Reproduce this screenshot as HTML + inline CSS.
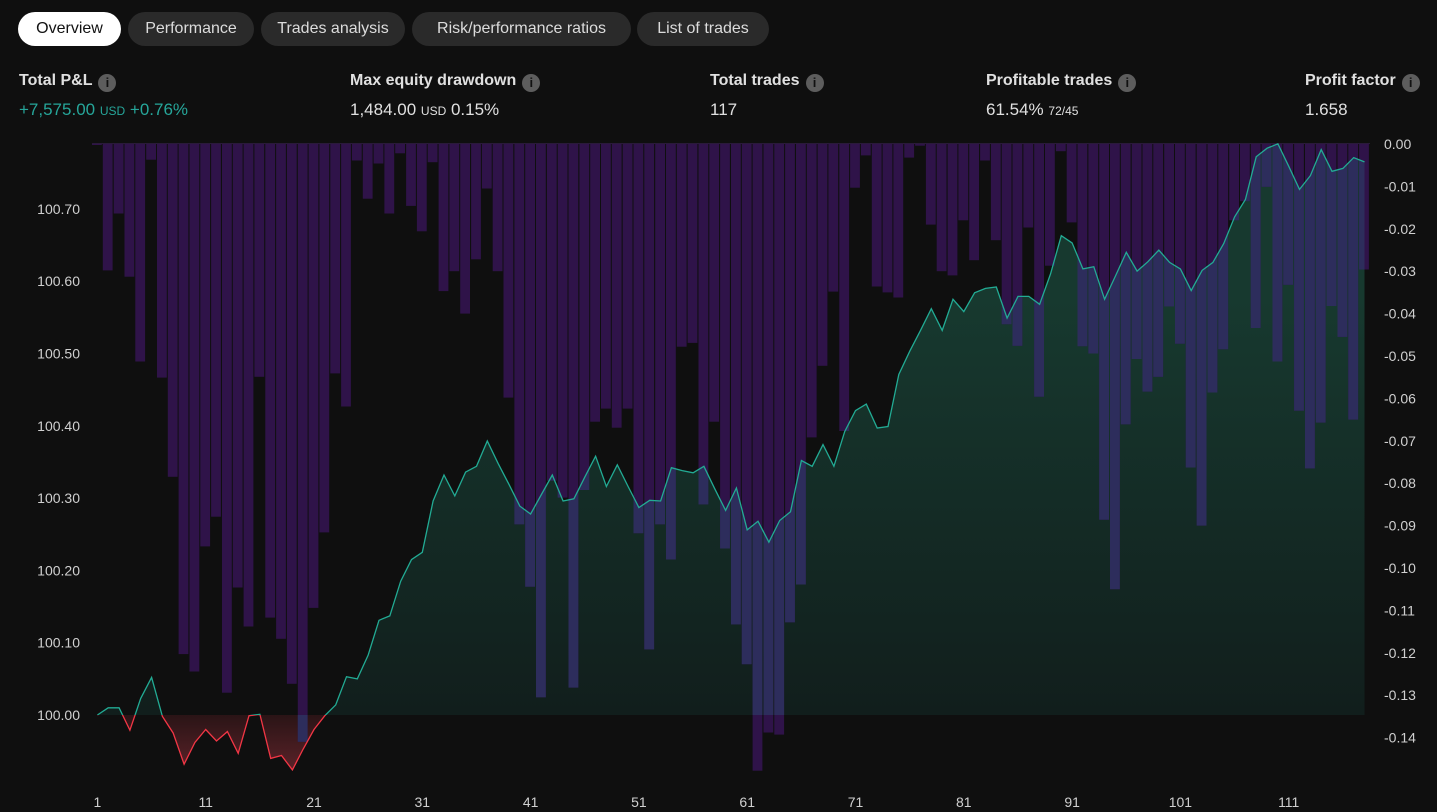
<!DOCTYPE html>
<html><head><meta charset="utf-8">
<style>
body{margin:0;width:1437px;height:812px;background:#0f0f0f;overflow:hidden;font-family:"Liberation Sans",sans-serif;color:#dbdbdb;position:relative}
.tab{position:absolute;top:12px;height:34px;line-height:34px;border-radius:17px;background:#2a2a2a;color:#dcdcdc;font-size:16px;text-align:center}
.tab.on{background:#fff;color:#111}
.lbl{position:absolute;top:72px;font-size:16px;font-weight:bold;color:#e0e0e0;white-space:nowrap}
.info{display:inline-block;width:18px;height:18px;border-radius:9px;background:#5d5d5d;color:#111;font-size:13px;line-height:18px;text-align:center;margin-left:6px;vertical-align:-2px;font-weight:bold}
.val{position:absolute;top:100px;font-size:17px;color:#e0e0e0;white-space:nowrap}
.sm{font-size:12px}
svg{position:absolute;left:0;top:0}
</style></head><body>
<div class="tab on" style="left:18px;width:103px">Overview</div>
<div class="tab" style="left:128px;width:126px">Performance</div>
<div class="tab" style="left:261px;width:144px">Trades analysis</div>
<div class="tab" style="left:412px;width:219px">Risk/performance ratios</div>
<div class="tab" style="left:637px;width:132px">List of trades</div>

<div class="lbl" style="left:19px">Total P&amp;L<span class="info">i</span></div>
<div class="val" style="left:19px;color:#26a69a">+7,575.00 <span class="sm">USD</span> +0.76%</div>
<div class="lbl" style="left:350px">Max equity drawdown<span class="info">i</span></div>
<div class="val" style="left:350px">1,484.00 <span class="sm">USD</span> 0.15%</div>
<div class="lbl" style="left:710px">Total trades<span class="info">i</span></div>
<div class="val" style="left:710px">117</div>
<div class="lbl" style="left:986px">Profitable trades<span class="info">i</span></div>
<div class="val" style="left:986px">61.54% <span class="sm">72/45</span></div>
<div class="lbl" style="left:1305px">Profit factor<span class="info">i</span></div>
<div class="val" style="left:1305px">1.658</div>

<svg id="chart" width="1437" height="812"></svg>
<script>
const equity=[100.000,100.010,100.010,99.979,100.023,100.052,99.998,99.975,99.932,99.962,99.980,99.964,99.977,99.947,99.999,100.001,99.940,99.944,99.924,99.953,99.980,99.999,100.014,100.053,100.050,100.083,100.131,100.137,100.185,100.215,100.225,100.296,100.332,100.303,100.336,100.344,100.379,100.348,100.319,100.289,100.278,100.305,100.332,100.296,100.299,100.329,100.358,100.316,100.346,100.316,100.287,100.297,100.296,100.342,100.338,100.335,100.344,100.313,100.283,100.314,100.256,100.268,100.239,100.269,100.281,100.352,100.344,100.374,100.344,100.392,100.421,100.430,100.397,100.399,100.471,100.503,100.532,100.562,100.532,100.575,100.558,100.584,100.590,100.592,100.549,100.579,100.579,100.568,100.610,100.663,100.653,100.617,100.620,100.575,100.607,100.640,100.614,100.627,100.643,100.626,100.617,100.587,100.615,100.626,100.652,100.689,100.713,100.772,100.784,100.790,100.759,100.727,100.746,100.782,100.752,100.756,100.771,100.765];
const drawdown=[0,-0.0298,-0.0164,-0.0313,-0.0513,-0.0037,-0.0551,-0.0785,-0.1203,-0.1244,-0.0949,-0.0879,-0.1294,-0.1046,-0.1138,-0.0549,-0.1117,-0.1167,-0.1273,-0.1410,-0.1094,-0.0916,-0.0541,-0.0619,-0.0039,-0.0129,-0.0046,-0.0164,-0.0022,-0.0146,-0.0206,-0.0043,-0.0347,-0.0300,-0.0400,-0.0272,-0.0105,-0.0300,-0.0598,-0.0897,-0.1044,-0.1305,-0.0794,-0.0834,-0.1282,-0.0816,-0.0655,-0.0624,-0.0669,-0.0624,-0.0918,-0.1192,-0.0897,-0.0980,-0.0478,-0.0469,-0.0850,-0.0655,-0.0954,-0.1133,-0.1227,-0.1478,-0.1388,-0.1393,-0.1128,-0.1039,-0.0692,-0.0523,-0.0348,-0.0677,-0.0103,-0.0027,-0.0336,-0.0350,-0.0362,-0.0032,-0.0004,-0.0190,-0.0300,-0.0310,-0.0180,-0.0274,-0.0039,-0.0227,-0.0425,-0.0476,-0.0197,-0.0596,-0.0287,-0.0017,-0.0185,-0.0477,-0.0494,-0.0886,-0.1050,-0.0661,-0.0507,-0.0584,-0.0549,-0.0383,-0.0471,-0.0763,-0.0900,-0.0586,-0.0484,-0.0180,-0.0135,-0.0434,-0.0101,-0.0513,-0.0332,-0.0629,-0.0765,-0.0657,-0.0382,-0.0455,-0.0650,-0.0296];
const leftTicks=[100.00,100.10,100.20,100.30,100.40,100.50,100.60,100.70];
const rightTicks=[0,-0.01,-0.02,-0.03,-0.04,-0.05,-0.06,-0.07,-0.08,-0.09,-0.10,-0.11,-0.12,-0.13,-0.14];
const xTicks=[1,11,21,31,41,51,61,71,81,91,101,111];

const NS='http://www.w3.org/2000/svg';
const svg=document.getElementById('chart');
const pitch=10.83, x0=92;
const xc=i=>x0+pitch*(i+0.5);
const yL=v=>715-(v-100)*723;
const yR=d=>144-d*4240;
function mk(tag,attrs,parent){const e=document.createElementNS(NS,tag);for(const k in attrs)e.setAttribute(k,attrs[k]);(parent||svg).appendChild(e);return e;}

const defs=mk('defs',{});
defs.innerHTML='<linearGradient id="gG" x1="0" y1="300" x2="0" y2="715" gradientUnits="userSpaceOnUse"><stop offset="0" stop-color="#17392f"/><stop offset="1" stop-color="#111e1c"/></linearGradient>'+
'<linearGradient id="rG" x1="0" y1="715" x2="0" y2="770" gradientUnits="userSpaceOnUse"><stop offset="0" stop-color="#2a1416"/><stop offset="1" stop-color="#5a2228"/></linearGradient>'+
'<clipPath id="above"><rect x="0" y="0" width="1437" height="715"/></clipPath>'+
'<clipPath id="below"><rect x="0" y="715" width="1437" height="100"/></clipPath>';

const pts=equity.map((v,i)=>xc(i).toFixed(1)+','+yL(v).toFixed(1)).join(' ');
const xs=xc(0),xe=xc(equity.length-1);
const areaPts=xs+',715 '+pts+' '+xe+',715';
const cp=mk('clipPath',{id:'areaClip'},defs);
mk('polygon',{points:areaPts},cp);

const ag=mk('polygon',{points:areaPts,fill:'url(#gG)','clip-path':'url(#above)'});


const ar=mk('polygon',{points:areaPts,fill:'url(#rG)','clip-path':'url(#below)'});



const gb=mk('g',{});


const gb2=mk('g',{'clip-path':'url(#areaClip)'});
drawdown.forEach((d,i)=>{
  const x=x0+pitch*i, h=Math.max(1,yR(d)-144);
  const r=mk('rect',{x:x.toFixed(1),y:144,width:(pitch-1).toFixed(1),height:h.toFixed(1),fill:'#2f1349'},gb);
  
  
  mk('rect',{x:x.toFixed(1),y:144,width:(pitch-1).toFixed(1),height:h.toFixed(1),fill:'#2d2d5c'},gb2);
});
mk('line',{x1:92,x2:1370,y1:143.5,y2:143.5,stroke:'#2a1a3a','stroke-width':1});

const lg=mk('polyline',{points:pts,fill:'none',stroke:'#22ab94','stroke-width':1.3,'clip-path':'url(#above)'});


const lr=mk('polyline',{points:pts,fill:'none',stroke:'#f23645','stroke-width':1.3,'clip-path':'url(#below)'});



leftTicks.forEach(v=>{const t=mk('text',{x:80,y:yL(v)+5,'text-anchor':'end','font-size':14,fill:'#d0d0d0'});t.textContent=v.toFixed(2);

});
rightTicks.forEach(v=>{const t=mk('text',{x:1384,y:yR(v)+5,'font-size':14,fill:'#d0d0d0'});t.textContent=v.toFixed(2);

});
xTicks.forEach(n=>{const t=mk('text',{x:xc(n-1),y:807,'text-anchor':'middle','font-size':14,fill:'#d0d0d0'});t.textContent=n;

});
</script>
</body></html>
